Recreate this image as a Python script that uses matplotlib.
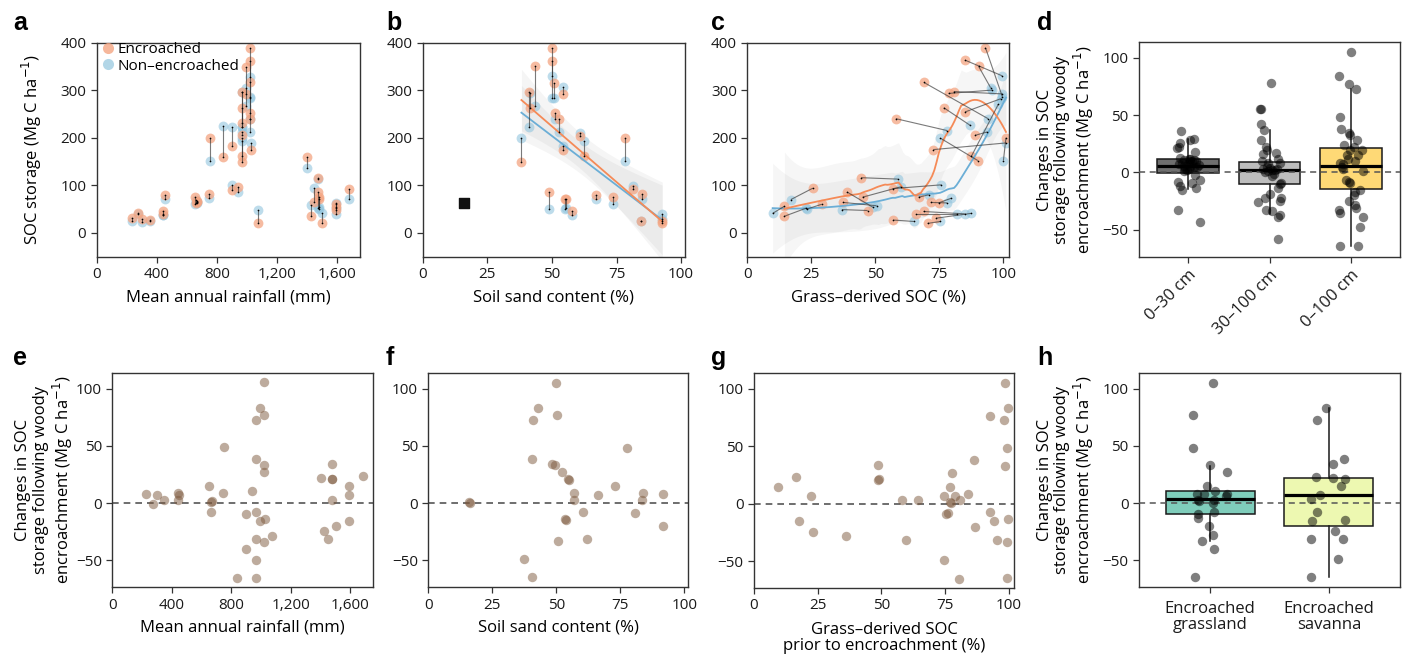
import numpy as np
import matplotlib
matplotlib.use('Agg')
import matplotlib.pyplot as plt
from matplotlib.lines import Line2D

plt.rcParams['font.family'] = ['Open Sans', 'DejaVu Sans']
plt.rcParams['axes.unicode_minus'] = True

# ---------------- data ----------------
# panel a: mean annual rainfall, SOC of encroached / non-encroached pairs
a_rain = [232, 277, 303, 352, 443, 440, 451, 651, 664, 668, 660, 746, 750, 841, 898, 901, 940,
          963, 967, 969, 969, 969, 965, 994, 990, 1019, 1017, 1019, 1017, 1026, 1017, 1069,
          1399, 1423, 1445, 1474, 1476, 1478, 1474, 1498, 1593, 1591, 1589, 1677]
a_enc = [31, 41, 29, 28, 45, 40, 79, 76, 66, 64, 62, 81, 200, 160, 183, 91, 96,
         296, 262, 205, 162, 150, 230, 349, 292, 389, 316, 362, 240, 175, 252, 20,
         159, 35, 64, 86, 72, 75, 116, 20, 55, 60, 48, 93]
a_non = [24, 40, 22, 25, 37, 37, 72, 61, 65, 63, 69, 73, 151, 225, 223, 100, 86,
         223, 223, 212, 193, 199, 296, 266, 305, 284, 240, 328, 212, 188, 286, 48,
         137, 59, 95, 52, 51, 54, 113, 41, 40, 53, 63, 71]

# panel b: soil sand content
b_sand = [38.2, 41.0, 41.4, 43.6, 50.2, 50.0, 51.0, 51.2, 52.6, 54.3, 54.3, 61.0, 62.6,
          78.4, 81.4, 85.0, 84.5, 92.7, 92.5, 48.8, 55.2, 55.5, 57.6, 67.0, 73.6]
b_enc = [150, 296, 262, 350, 389, 362, 315, 252, 239, 291, 175, 204, 162,
         199, 92, 81, 25, 20, 25, 85, 72, 71, 45, 79, 76]
b_non = [199, 222, 294, 266, 329, 284, 284, 239, 213, 306, 182, 210, 193,
         151, 99, 72, 25, 39, 30, 51, 51, 53, 37, 72, 60]
b_square_x = [16.0]
b_square_y = [63]

# panel c: grass-derived SOC (%) for encroached and non-encroached sites
c_enc_x = [93, 85, 90.3, 69, 78.6, 80.6, 76.7, 58, 85, 90, 72.7, 89, 87.5, 101,
           44.5, 25.6, 14.5, 14.5, 38.9, 56.7, 45, 37.5, 29, 47, 66.9, 71.7, 74.7,
           65.8, 68.8, 57, 70.4, 73.8]
c_enc_y = [389, 363, 350, 316, 293, 297, 263, 240, 254, 152, 175, 205, 161, 200,
           116, 94, 56, 35, 86, 93, 75, 64, 60, 47, 75, 64, 63,
           40, 45, 27, 20, 31]
c_non_x = [99.6, 99.5, 95, 94, 95.5, 99.6, 87, 78, 99, 75.4, 101, 93.6, 98, 100,
           58.8, 17, 9.9, 23, 49, 75.8, 60, 50.5, 23.2, 36.9, 70.8, 78, 79.7,
           81.9, 84.9, 65, 75.4, 87.4]
c_non_y = [286, 330, 305, 240, 300, 292, 226, 215, 282, 199, 189, 212, 270, 152,
           113, 70, 41, 52, 54, 101, 97, 57, 50, 49, 80, 63, 73,
           40, 40, 24, 24, 41]

# panel d: change in SOC by depth (box statistics and individual sites)
d_groups = ['0–30 cm', '30–100 cm', '0–100 cm']
d_q1 = [-0.6, -9.9, -14.5]
d_med = [5.2, 1.7, 5.8]
d_q3 = [11.6, 9.3, 21.5]
d_whislo = [-14.5, -36, -64.5]
d_whishi = [29, 37, 72.7]
d_vals_030 = [36, 29, 28, 26, 22, 21, 18, 13, 12, 11, 11, 10, 9.6, 8, 7, 6.7, 6, 5, 4.7, 3,
              2.3, 1, -2, -7, -8, -9, -12, -14, -15, -33, -43, 10, 5, 3, 12, 8]
d_vals_30100 = [78, 55, 55, 42, 37, 28, 22, 20, 17, 16, 12, 10, 8, 5, 4, 3, 2, 2, 1, 0,
                -1, -3, -9, -10, -14, -19, -22, -22, -25, -26, -33, -34, -37, -39, -58, 8, 3]
d_vals_0100 = [105, 84, 77, 73, 48, 38, 34, 33, 28, 24, 22, 20, 15, 12, 10, 8, 7, 5, 3, 1,
               -7, -8, -9, -15, -17, -20, -25, -28, -31, -33, -35, -39, -48, -64, -64, 20, 15]

# panel e: change in SOC vs rainfall
e_rain = [227, 274, 298, 348, 440, 440, 449, 651, 660, 664, 668, 743, 750, 841, 898, 898, 940,
          965, 967, 969, 969, 969, 967, 994, 990, 1017, 1019, 1019, 1017, 1026, 1017, 1073,
          1403, 1425, 1450, 1477, 1477, 1477, 1477, 1504, 1591, 1593, 1591, 1683]
e_diff = [7.6, -0.3, 7.3, 2.9, 8.8, 2.9, 7.0, 15.2, -7.3, 1.2, 1.8, 9.1, 48.8, -65.5, -9.4, -39.8, 10.8,
          73.1, 38.9, -7.3, -31.6, -49.4, -65.5, 83.6, -15.2, 76.9, 105.6, 33.6, 27.2, -13.5, -33.9, -28.7,
          21.9, -24.3, -31.6, 34.2, 21.1, 21.5, 2.9, -19.9, 14.9, 7.0, -15.2, 23.4]

# panel f: change in SOC vs sand content
f_sand = [49.9, 42.9, 40.9, 50.3, 40.6, 48.2, 49.5, 52.1, 54.7, 55.0, 56.8, 56.8, 66.1, 72.7, 77.6,
          84.0, 83.6, 91.5, 15.9, 16.1, 60.2, 53.4, 53.6, 50.8, 61.8, 80.5, 91.7, 37.5, 40.4]
f_diff = [105.2, 83.4, 73, 76.7, 39, 34.6, 33.4, 27.3, 20.9, 20.5, 8.7, 2.9, 7.0, 15.4, 48.5,
          9, 3.2, 7.6, 1.2, 0.5, -7.3, -14, -15, -33.4, -31.1, -9, -19.8, -48.8, -64.8]

# panel g: change in SOC vs grass-derived SOC prior to encroachment
g_grass = [9.6, 16.4, 22.4, 17.8, 23, 36.3, 48.8, 48.8, 48.9, 58.1, 64.3, 59.6, 74.7, 77.6, 77,
           77.2, 77.0, 78.9, 80.9, 75.3, 76.3, 74.7, 80.6, 84, 86.4, 86.6, 92.7, 92.5, 94.2, 95.3,
           98.3, 98.6, 99.2, 98.4, 99.6, 99.7, 99.5, 99.2]
g_diff = [14.5, 23, 7, -15.4, -24.4, -28.2, 34, 20.6, 21.2, 2.9, 2.9, -31.7, 7, 27, 14.8,
          0.9, 1.8, 6.7, 2.9, -9.3, -7.8, -48.8, -65.4, 8.4, 38.4, -20, 76.5, -7.3, -15.4, -31.7,
          72.7, 104.7, 48.3, 33.1, 83.4, -13.4, -33.7, -65.1]

# panel h: change in SOC by ecosystem type
h_groups = ['Encroached\ngrassland', 'Encroached\nsavanna']
h_q1 = [-9.3, -19.5]
h_med = [3.5, 7.3]
h_q3 = [11, 22.4]
h_whislo = [-33.4, -64.8]
h_whishi = [32.8, 83.4]
h_vals_grass = [105, 77, 48.5, 33, 27, 15, 11, 8.4, 7.8, 8.1, 6.4, 2.9, 2.3, 0, 2.9, -9.3, -13,
                -7.3, -19.5, -28, -33.4, -40, -64.8]
h_vals_sav = [83.4, 72.7, 34, 38.4, 23.3, 21.8, 20.9, 14.8, 7, 3.5, -7.6, -15.4, -15.1, -24.4,
              -31, -31.7, -48.8, -64.8]

# jitter offsets (horizontal, in category units)
d_jit_030 = [(p - 293) / 244.5 for p in
             [272, 310, 298, 270, 265, 260, 313, 268, 300, 280, 310, 318, 300, 292, 265, 325, 280, 320,
              300, 285, 290, 280, 313, 328, 262, 305, 270, 318, 275, 262, 328, 305, 310, 295, 295, 275]]
d_jit_30100 = [(p - 538) / 244.5 for p in
               [543, 510, 512, 513, 522, 513, 528, 530, 557, 520, 562, 515, 570, 530, 540, 520, 545, 555,
                535, 525, 550, 545, 572, 570, 563, 540, 526, 572, 570, 503, 528, 545, 570, 563, 562, 535, 560]]
d_jit_0100 = [(p - 782) / 244.5 for p in
              [782, 747, 775, 798, 750, 752, 775, 778, 800, 762, 790, 815, 802, 772, 795, 750, 758, 755,
               757, 818, 768, 775, 780, 810, 795, 790, 775, 795, 797, 745, 750, 818, 810, 750, 803, 780, 770]]
h_jit_grass = [(p - 358) / 356 for p in
               [365, 306, 305, 357, 408, 347, 373, 318, 340, 408, 405, 320, 325, 367, 368, 322, 320, 368,
                353, 365, 333, 368, 312]]
h_jit_sav = [(p - 714) / 356 for p in
             [705, 678, 727, 760, 676, 728, 762, 750, 688, 662, 680, 663, 763, 732, 662, 756, 742, 662]]

# ---------------- styling ----------------
ORANGE = '#F4A582'
BLUE = '#92C5DE'
ORANGE_LINE = '#F58A57'
BLUE_LINE = '#6BAED6'
BROWN = '#7D593D'
SPINE = '#333333'
TICK_FS = 11
LAB_FS = 12

W, H = 1403, 657
fig = plt.figure(figsize=(W / 100, H / 100), dpi=100)


def add_ax(l, r, t, b):
    return fig.add_axes([l / W, 1 - b / H, (r - l) / W, (b - t) / H])


def style(ax):
    for sp in ax.spines.values():
        sp.set_color(SPINE)
        sp.set_linewidth(1.0)
    ax.tick_params(length=4, width=0.9, color=SPINE, labelsize=TICK_FS, labelcolor='#1a1a1a', pad=3.5)


def linfit(x, y, n_pts=80):
    x = np.asarray(x, float)
    y = np.asarray(y, float)
    n = len(x)
    b1, b0 = np.polyfit(x, y, 1)
    xs = np.linspace(x.min(), x.max(), n_pts)
    yh = b0 + b1 * xs
    res = y - (b0 + b1 * x)
    s = np.sqrt(np.sum(res ** 2) / (n - 2))
    se = s * np.sqrt(1 / n + (xs - x.mean()) ** 2 / np.sum((x - x.mean()) ** 2))
    t = 2.07
    return xs, yh, yh - t * se, yh + t * se


def loess(x, y, span=0.75, n_pts=100):
    x = np.asarray(x, float)
    y = np.asarray(y, float)
    n = len(x)
    q = int(np.ceil(span * n))

    def rows(x0s):
        L = []
        for x0 in x0s:
            d = np.abs(x - x0)
            h = np.sort(d)[q - 1] * (1 + 1e-9) + 1e-9
            w = np.clip(1 - (d / h) ** 3, 0, None) ** 3
            X = np.column_stack([np.ones(n), x - x0, (x - x0) ** 2])
            WX = X * w[:, None]
            A = X.T @ WX
            L.append(np.linalg.solve(A, WX.T)[0])
        return np.array(L)

    Lhat = rows(x)
    res = y - Lhat @ y
    sigma = np.sqrt(np.sum(res ** 2) / max(n - np.trace(Lhat), 1))
    xs = np.linspace(x.min(), x.max(), n_pts)
    Ls = rows(xs)
    fit = Ls @ y
    se = sigma * np.sqrt(np.sum(Ls ** 2, axis=1))
    t = 2.04
    return xs, fit, fit - t * se, fit + t * se


def pair_panel(ax, xe, ye, xn, yn):
    for x1, y1, x2, y2 in zip(xn, yn, xe, ye):
        ax.plot([x1, x2], [y1, y2], color='#333333', lw=0.8, alpha=0.65, zorder=3, solid_capstyle='butt')
    ax.scatter(xn, yn, s=50, color=BLUE, alpha=0.6, lw=0, zorder=2)
    ax.scatter(xe, ye, s=50, color=ORANGE, alpha=0.75, lw=0, zorder=2)
    ax.scatter(list(xe) + list(xn), list(ye) + list(yn), s=1.5, color='k', lw=0, zorder=4)


# ---------------- axes ----------------
ax_a = add_ax(96.7, 360, 42.5, 256.7)
ax_b = add_ax(422.7, 685, 42.5, 256.7)
ax_c = add_ax(747.3, 1009.3, 42.5, 256.7)
ax_d = add_ax(1139, 1400, 42.3, 256.7)
ax_e = add_ax(112.3, 372.7, 373.3, 587.3)
ax_f = add_ax(428.3, 688.3, 373.3, 587.3)
ax_g = add_ax(754, 1014.3, 373.3, 588)
ax_h = add_ax(1139, 1400, 373.3, 587.3)

rain_ticks = [0, 400, 800, 1200, 1600]
rain_labels = ['0', '400', '800', '1,200', '1,600']
pct_ticks = [0, 25, 50, 75, 100]

# ---- a ----
ax = ax_a
pair_panel(ax, a_rain, a_enc, a_rain, a_non)
ax.set_xlim(0, 1750)
ax.set_ylim(-50, 400)
ax.set_xticks(rain_ticks)
ax.set_xticklabels(rain_labels)
ax.set_yticks([0, 100, 200, 300, 400])
ax.set_xlabel('Mean annual rainfall (mm)', fontsize=LAB_FS, labelpad=5)
ax.set_ylabel('SOC storage (Mg C ha$^{-1}$)', fontsize=LAB_FS)
ax.yaxis.set_label_coords(-0.2, 0.5)
handles = [Line2D([], [], marker='o', ls='', markersize=8, markerfacecolor=ORANGE, markeredgewidth=0, alpha=0.8),
           Line2D([], [], marker='o', ls='', markersize=8, markerfacecolor=BLUE, markeredgewidth=0, alpha=0.7)]
ax.legend(handles, ['Encroached', 'Non–encroached'], loc='upper left', bbox_to_anchor=(-0.017, 1.03),
          frameon=False, fontsize=11, handletextpad=0.05, labelspacing=0.1, handlelength=1.2, borderaxespad=0)
style(ax)

# ---- b ----
ax = ax_b
for xx, yy, lc in [(b_sand, b_non, BLUE_LINE), (b_sand, b_enc, ORANGE_LINE)]:
    xs, yh, lo, hi = linfit(xx, yy)
    ax.fill_between(xs, lo, hi, color='#808080', alpha=0.08, lw=0, zorder=1)
    ax.plot(xs, yh, color=lc, lw=1.3, zorder=3)
pair_panel(ax, b_sand, b_enc, b_sand, b_non)
ax.scatter(b_square_x, b_square_y, marker='s', s=45, color='#111111', zorder=4)
ax.set_xlim(0, 101.5)
ax.set_ylim(-50, 400)
ax.set_xticks(pct_ticks)
ax.set_yticks([0, 100, 200, 300, 400])
ax.set_xlabel('Soil sand content (%)', fontsize=LAB_FS, labelpad=5)
style(ax)

# ---- c ----
ax = ax_c
for xx, yy, lc, sp in [(c_non_x, c_non_y, BLUE_LINE, 0.75), (c_enc_x, c_enc_y, ORANGE_LINE, 0.6)]:
    xs, fit, lo, hi = loess(xx, yy, span=sp)
    ax.fill_between(xs, lo, hi, color='#808080', alpha=0.07, lw=0, zorder=1)
    ax.plot(xs, fit, color=lc, lw=1.3, zorder=3)
pair_panel(ax, c_enc_x, c_enc_y, c_non_x, c_non_y)
ax.set_xlim(0, 102.3)
ax.set_ylim(-50, 400)
ax.set_xticks(pct_ticks)
ax.set_yticks([0, 100, 200, 300, 400])
ax.set_xlabel('Grass–derived SOC (%)', fontsize=LAB_FS, labelpad=5)
style(ax)

CHANGE_LABEL = 'Changes in SOC\nstorage following woody\nencroachment (Mg C ha$^{-1}$)'


def box_panel(ax, q1, med, q3, lo, hi, colors, vals, jits, width):
    stats = [dict(med=m, q1=a, q3=b, whislo=l, whishi=h_, fliers=[])
             for a, m, b, l, h_ in zip(q1, med, q3, lo, hi)]
    bp = ax.bxp(stats, positions=list(range(len(stats))), widths=width, patch_artist=True,
                showfliers=False, showcaps=False,
                boxprops=dict(linewidth=1.1, edgecolor='#1a1a1a'),
                medianprops=dict(color='black', linewidth=2.3),
                whiskerprops=dict(color='#1a1a1a', linewidth=1.1))
    for patch, c in zip(bp['boxes'], colors):
        patch.set_facecolor(c)
        patch.set_zorder(2)
    ax.axhline(0, color='#555555', lw=1.1, ls=(0, (4, 3)), zorder=3)
    for i, (v, j) in enumerate(zip(vals, jits)):
        ax.scatter(np.array(j) + i, v, s=46, color='black', alpha=0.5, lw=0, zorder=4)
    ax.set_ylim(-73.5, 113.5)
    ax.set_yticks([-50, 0, 50, 100])
    ax.set_xlim(-0.6, len(stats) - 0.4)


# ---- d ----
ax = ax_d
box_panel(ax, d_q1, d_med, d_q3, d_whislo, d_whishi, ['#6F6F6F', '#BDBDBD', '#FED976'],
          [d_vals_030, d_vals_30100, d_vals_0100], [d_jit_030, d_jit_30100, d_jit_0100], 0.75)
ax.set_xticks([0, 1, 2])
ax.set_xticklabels(d_groups, rotation=45, ha='right', rotation_mode='anchor')
ax.set_ylabel(CHANGE_LABEL, fontsize=LAB_FS, linespacing=1.1)
ax.yaxis.set_label_coords(-0.165, 0.5)
style(ax)
ax.tick_params(axis='x', labelsize=12)

# ---- h ----
ax = ax_h
box_panel(ax, h_q1, h_med, h_q3, h_whislo, h_whishi, ['#7FCDBB', '#EDF8B1'],
          [h_vals_grass, h_vals_sav], [h_jit_grass, h_jit_sav], 0.75)
ax.set_xticks([0, 1])
ax.set_xticklabels(h_groups, linespacing=0.95)
ax.set_ylabel(CHANGE_LABEL, fontsize=LAB_FS, linespacing=1.1)
ax.yaxis.set_label_coords(-0.165, 0.5)
style(ax)
ax.tick_params(axis='x', labelsize=12, pad=6)


def diff_panel(ax, x, y):
    ax.axhline(0, color='#555555', lw=1.2, ls=(0, (4, 3)), zorder=1)
    ax.scatter(x, y, s=46, color=BROWN, alpha=0.5, lw=0, zorder=2)
    ax.set_ylim(-73.5, 113.5)
    ax.set_yticks([-50, 0, 50, 100])


# ---- e ----
ax = ax_e
diff_panel(ax, e_rain, e_diff)
ax.set_xlim(0, 1750)
ax.set_xticks(rain_ticks)
ax.set_xticklabels(rain_labels)
ax.set_xlabel('Mean annual rainfall (mm)', fontsize=LAB_FS, labelpad=5)
ax.set_ylabel(CHANGE_LABEL, fontsize=LAB_FS, linespacing=1.1)
ax.yaxis.set_label_coords(-0.145, 0.5)
style(ax)

# ---- f ----
ax = ax_f
diff_panel(ax, f_sand, f_diff)
ax.set_xlim(0, 101.5)
ax.set_xticks(pct_ticks)
ax.set_xlabel('Soil sand content (%)', fontsize=LAB_FS, labelpad=5)
style(ax)

# ---- g ----
ax = ax_g
diff_panel(ax, g_grass, g_diff)
ax.set_xlim(0, 102.2)
ax.set_xticks(pct_ticks)
ax.set_xlabel('Grass–derived SOC\nprior to encroachment (%)', fontsize=LAB_FS, labelpad=6, linespacing=1.05)
style(ax)

# ---- panel letters ----
for letter, x, y in [('a', 13, 30), ('b', 386, 30), ('c', 711, 30), ('d', 1037, 30),
                     ('e', 13, 365), ('f', 386, 365), ('g', 711, 365), ('h', 1037, 365)]:
    fig.text(x / W, 1 - y / H, letter, fontsize=18, fontweight='bold', va='baseline', ha='left',
             family=['Liberation Sans', 'DejaVu Sans'])

fig.savefig('out.png', dpi=100)
